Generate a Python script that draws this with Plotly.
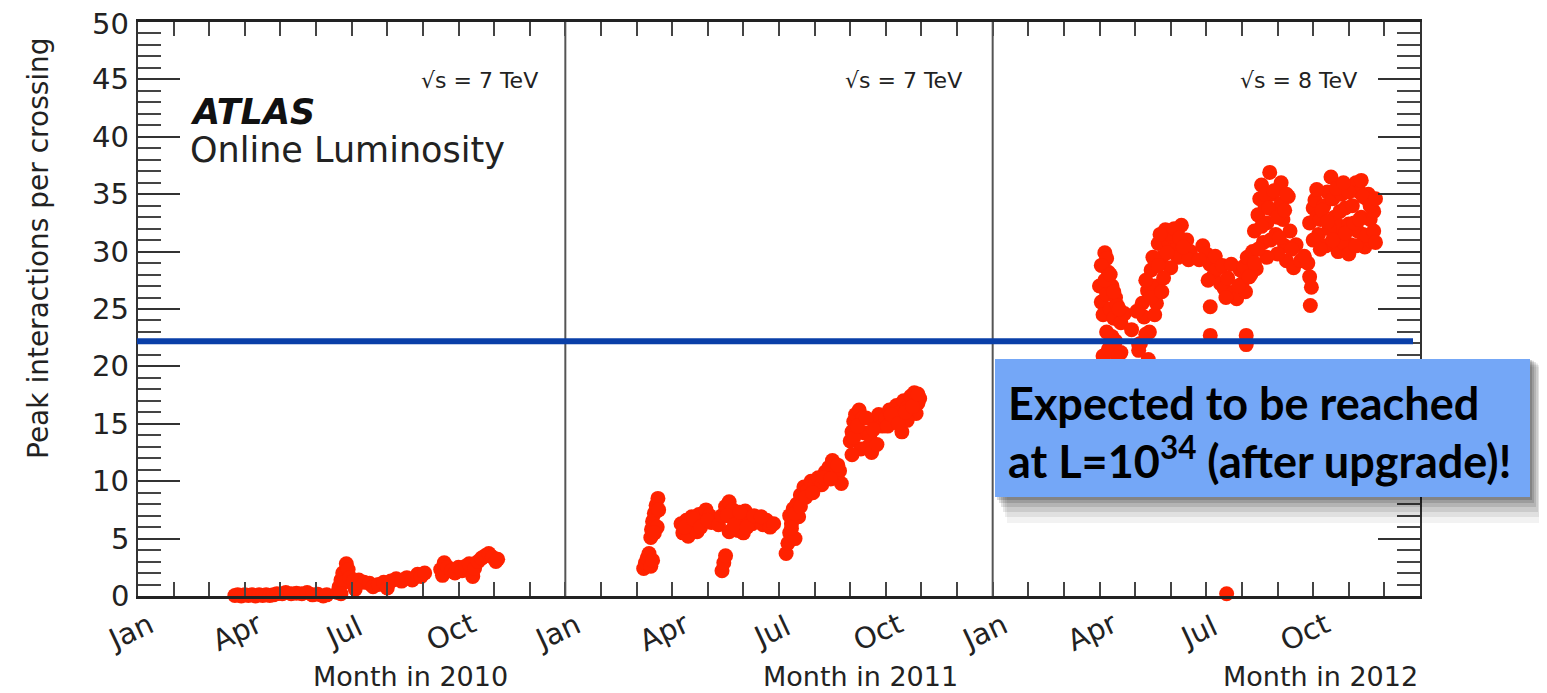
import plotly.graph_objects as go

# ---------------- data (month within year, peak interactions per crossing) ----------------
months_2010 = [2.72, 2.8, 2.9, 3.0, 3.1, 3.2, 3.3, 3.4, 3.5, 3.6, 3.7, 3.8, 3.9,
               4.05, 4.15, 4.3, 4.45, 4.6, 4.75, 4.9, 5.05, 5.2, 5.3,
               5.6, 5.65, 5.7, 5.75, 5.85, 5.9, 5.8, 5.95, 6.05, 6.2, 6.35, 6.5, 6.6, 6.75, 6.9,
               7.0, 7.1, 7.25, 7.4, 7.55, 7.7, 7.85, 7.95, 8.05, 5.7, 6.1,
               8.5, 8.55, 8.6, 8.7, 8.8, 8.9, 9.0, 9.1, 9.2, 9.3, 9.4, 9.45, 9.55, 9.65, 9.75,
               9.85, 9.95, 10.05, 10.1]
values_2010 = [0.05, 0.1, 0.0, 0.1, 0.05, 0.1, 0.0, 0.1, 0.05, 0.1, 0.05, 0.1, 0.2,
               0.2, 0.3, 0.2, 0.25, 0.2, 0.3, 0.1, 0.15, 0.0, 0.1,
               0.3, 0.8, 1.4, 2.0, 2.8, 2.3, 1.2, 1.6, 1.3, 1.4, 1.2, 1.1, 0.8, 1.0, 1.2,
               0.7, 1.3, 1.5, 1.3, 1.6, 1.4, 1.9, 1.7, 2.0, 0.2, 0.6,
               2.3, 1.8, 2.9, 2.5, 2.2, 2.0, 2.5, 2.2, 2.6, 2.8, 1.7, 2.4, 3.0, 3.3, 3.5,
               3.7, 3.4, 3.0, 3.2]

months_2011 = [2.2, 2.25, 2.3, 2.35, 2.4, 2.45,
               2.4, 2.42, 2.45, 2.5, 2.55, 2.6, 2.58, 2.5, 2.62,
               3.25, 3.3, 3.4, 3.5, 3.55, 3.65, 3.75, 3.85, 3.95, 4.05, 4.1, 3.45, 3.7,
               3.35, 3.6, 3.8, 4.0,
               4.4, 4.45, 4.5,
               4.3, 4.4, 4.5, 4.6, 4.7, 4.8, 4.85, 4.95, 5.05, 5.15, 5.25, 5.35, 5.45, 5.55,
               5.65, 5.75, 5.85, 4.6, 5.0, 4.55, 4.75, 4.9, 5.1, 5.3, 5.5,
               6.2, 6.25, 6.3, 6.35, 6.3, 6.4, 6.5, 6.55, 6.6, 6.7, 6.8, 6.9, 7.0, 7.1, 7.2,
               7.3, 7.4, 7.5, 7.6, 7.7, 7.75, 6.45,
               6.35, 6.45, 6.6, 6.75, 6.95, 7.25, 7.45, 7.65,
               8.0, 8.05, 8.1, 8.15, 8.25, 8.35, 8.4, 8.3, 8.5, 8.6, 8.7, 8.8, 8.9, 8.55, 8.05,
               8.1, 8.2, 8.45, 8.65, 8.75,
               9.0, 9.1, 9.2, 9.3, 9.4, 9.5, 9.6, 9.7, 9.8, 9.9, 9.95, 9.85, 9.45, 9.05, 9.6,
               9.15, 9.35, 9.55, 9.75, 9.9]
values_2011 = [2.4, 2.9, 3.3, 3.7, 2.6, 3.1,
               5.1, 5.8, 6.5, 7.2, 7.9, 8.5, 6.0, 5.5, 7.5,
               6.3, 5.5, 6.6, 5.9, 6.9, 6.2, 7.1, 6.5, 7.5, 7.0, 6.4, 5.2, 5.6,
               6.0, 6.7, 6.0, 6.6,
               2.2, 2.9, 3.5,
               6.2, 7.0, 7.8, 8.2, 7.5, 6.8, 5.7, 6.5, 7.4, 7.0, 6.3, 6.8, 6.5, 6.2,
               6.6, 6.0, 6.3, 5.6, 5.5, 7.0, 6.2, 7.3, 6.0, 7.0, 6.9,
               3.7, 4.6, 5.5, 6.3, 7.0, 7.6, 8.0, 6.9, 8.8, 9.5, 9.2, 10.0, 9.6, 10.3, 9.7,
               10.8, 11.2, 11.8, 10.5, 10.9, 9.8, 5.0,
               5.9, 7.2, 7.8, 8.6, 9.0, 10.3, 10.2, 11.4,
               13.5, 14.3, 15.2, 15.8, 16.2, 15.5, 14.2, 12.8, 13.0, 12.5, 15.0, 15.8, 14.8, 14.0, 12.3,
               13.8, 14.8, 15.5, 14.5, 13.2,
               15.5, 16.2, 15.4, 16.6, 16.0, 17.0, 16.4, 17.4, 17.7, 16.8, 17.2, 15.9, 14.3, 14.8, 15.3,
               15.8, 15.0, 16.0, 16.5, 17.6]

months_2012 = [3.15, 3.2, 3.25, 3.0, 3.05, 3.1, 3.2, 3.3, 3.35, 3.4, 3.45, 3.5, 3.6, 3.7, 3.35, 3.1, 3.25,
               3.05, 3.15, 3.3, 3.4, 3.55, 3.2, 3.45, 3.6, 3.5,
               4.1, 4.37,
               3.9, 4.1, 4.25, 4.35, 4.45, 4.55, 4.65, 4.75, 4.85, 4.95, 5.05, 5.15, 5.2, 4.6, 4.4,
               4.15, 5.0, 4.8, 4.95, 5.3, 5.45, 5.55, 5.5,
               4.2, 4.3, 4.5, 4.7, 4.9, 5.1, 5.25, 5.35, 4.45, 4.55, 4.65, 4.3, 4.05, 4.75,
               5.9, 6.0, 6.1, 6.2, 6.3, 6.4, 6.5, 6.6, 6.75, 6.85, 7.0, 7.1, 7.25, 6.95, 6.11,
               5.8, 6.05, 6.25, 6.45, 6.55, 6.7, 6.9, 7.05, 7.15,
               6.11, 7.12, 7.12,
               7.3, 7.35, 7.45, 7.5, 7.55, 7.65, 7.7, 7.78, 7.85, 7.9, 7.95, 8.05, 8.1, 8.15, 8.2,
               8.25, 8.0, 7.6, 7.4, 7.2, 8.3, 8.1, 7.7, 8.35, 8.52,
               7.55, 7.65, 7.75, 7.8, 7.9, 8.0, 8.05, 8.2, 8.25, 7.45, 7.35, 8.4, 8.45, 8.65,
               8.85, 8.9, 8.95, 8.92, 8.75,
               8.9, 9.0, 9.05, 9.1, 9.15, 9.2, 9.3, 9.4, 9.5, 9.55, 9.6, 9.65, 9.7, 9.75, 9.8, 9.9,
               10.0, 10.05, 10.1, 10.2, 10.3, 10.35, 10.4, 10.45, 10.5, 10.55, 10.6, 10.65, 10.7,
               9.35, 9.85, 10.25, 9.45, 10.0,
               9.0, 9.1, 9.25, 9.4, 9.55, 9.65, 9.75, 9.9, 10.0, 10.15, 10.2, 10.3, 10.4, 10.5,
               10.6, 10.7, 10.75, 10.75, 9.2, 10.35, 9.85,
               6.57]
values_2012 = [29.9, 29.4, 28.2, 27.0, 25.6, 24.5, 26.3, 25.0, 27.0, 24.2, 26.0, 25.3, 23.8, 24.6, 22.6, 20.9, 21.5,
               28.8, 27.5, 28.0, 26.5, 25.0, 23.0, 22.2, 21.2, 20.8,
               21.9, 20.6,
               23.2, 21.4, 24.3, 26.6, 28.4, 27.0, 30.7, 29.5, 31.9, 30.8, 31.3, 30.2, 29.5, 25.5, 23.0,
               22.0, 28.6, 27.7, 31.6, 32.3, 31.0, 30.0, 29.3,
               25.5, 27.5, 29.5, 31.5, 29.9, 32.0, 31.2, 30.4, 26.0, 24.5, 28.8, 22.8, 24.8, 26.5,
               30.5, 29.8, 28.9, 27.9, 28.5, 27.2, 26.8, 27.7, 26.4, 25.9, 27.2, 26.5, 28.0, 28.4, 25.2,
               29.3, 27.5, 29.6, 28.8, 26.0, 28.9, 27.0, 28.7, 29.5,
               22.7, 22.7, 21.9,
               30.0, 31.8, 33.2, 34.6, 35.8, 34.0, 32.5, 36.9, 35.0, 33.6, 31.5, 35.5, 34.2, 32.8, 30.5,
               29.2, 29.8, 30.8, 28.5, 27.8, 34.8, 36.0, 29.5, 31.8, 30.6,
               32.2, 35.0, 33.8, 31.0, 35.3, 33.0, 31.2, 33.6, 35.0, 30.2, 29.0, 30.2, 28.6, 29.2,
               29.0, 27.8, 26.9, 25.3, 29.6,
               32.5, 33.8, 34.5, 33.0, 31.5, 32.8, 34.0, 35.2, 36.5, 34.6, 33.0, 31.2, 30.0, 32.2, 35.0, 33.8,
               32.4, 30.6, 34.0, 36.0, 35.2, 33.0, 31.5, 30.4, 34.6, 35.0, 32.8, 30.9, 33.5,
               30.5, 30.8, 31.8, 32.0, 29.8,
               31.0, 35.4, 33.6, 32.6, 31.0, 35.5, 33.5, 31.6, 35.2, 32.5, 30.5, 32.8, 34.8, 31.4,
               34.0, 31.8, 34.6, 30.8, 30.2, 36.2, 36.0,
               0.2]

years = [2010, 2011, 2012]
month_names = ["Jan", "Apr", "Jul", "Oct"]
energy_labels = ["√s = 7 TeV", "√s = 7 TeV", "√s = 8 TeV"]
y_ticks = [0, 5, 10, 15, 20, 25, 30, 35, 40, 45, 50]
expected_level = 22.2

# ---------------- layout helpers ----------------
# the page body adds an 8 px offset, so the figure is drawn 8 px smaller and
# positions below are given in screen pixels of the reference.
OFF = 8
W, H = 1547 - OFF, 693 - OFF
L, R, T, B = 138, 1420, 22, 596          # plot area in screen pixels


def px(xp):
    return (xp - L) / (R - L)


def py(yp):
    return (B - yp) / (B - T)


fig = go.Figure()

all_x, all_y = [], []
for i, (m, v) in enumerate([(months_2010, values_2010), (months_2011, values_2011), (months_2012, values_2012)]):
    all_x += [12 * i + mm for mm in m]
    all_y += v

fig.add_trace(go.Scatter(x=all_x, y=all_y, mode="markers",
                         marker=dict(color="#ff2200", size=15, line=dict(width=0)),
                         hoverinfo="skip", showlegend=False, cliponaxis=False))

shapes = []
# panel separators
for k in (12, 24):
    shapes.append(dict(type="line", xref="x", yref="y", x0=k, x1=k, y0=0, y1=50,
                       line=dict(color="#555555", width=2), layer="above"))
# expected level line
shapes.append(dict(type="line", xref="paper", yref="y", x0=px(137), x1=px(1413),
                   y0=expected_level, y1=expected_level,
                   line=dict(color="#0a3fa8", width=6), layer="above"))
# shadow of the callout box
for dx, dy, op in [(12, 26, 0.05), (10, 20, 0.07), (8, 15, 0.09), (6, 10, 0.11), (4, 6, 0.13), (2, 3, 0.15)]:
    shapes.append(dict(type="rect", xref="paper", yref="paper",
                       x0=px(995 + dx), x1=px(1530 + dx), y0=py(359 + dy * 0.3), y1=py(497 + dy),
                       fillcolor="black", opacity=op, line=dict(width=0), layer="above"))
# callout box
shapes.append(dict(type="rect", xref="paper", yref="paper",
                   x0=px(995), x1=px(1530), y0=py(359), y1=py(497),
                   fillcolor="#74a7f7", line=dict(width=0), layer="above"))

annotations = []
label_font = dict(family="DejaVu Sans", size=29, color="#222222")
# y tick labels (drawn as text so the top one is not dropped at the page edge)
for v in y_ticks:
    annotations.append(dict(x=px(131), y=v, xref="paper", yref="y", text=str(v), showarrow=False,
                            xanchor="right", yanchor="middle", yshift=-2 if v == 50 else 0,
                            font=dict(family="DejaVu Sans", size=29, color="#222222")))
# month tick labels
for i, yr in enumerate(years):
    for j, name in enumerate(month_names):
        annotations.append(dict(x=12 * i + 3 * j, y=py(632), xref="x", yref="paper",
                                text=name, showarrow=False, textangle=-25, xshift=-8,
                                font=label_font, xanchor="center", yanchor="middle"))
# axis titles per panel
title_right = [510, 960, 1420]
for i, yr in enumerate(years):
    annotations.append(dict(x=px(title_right[i]), y=py(676), xref="paper", yref="paper",
                            text=f"Month in {yr}", showarrow=False, xanchor="right", yanchor="middle",
                            font=dict(family="DejaVu Sans", size=27, color="#222222")))
# energy labels
energy_x = [11.3, 23.2, 34.3]
for i, lab in enumerate(energy_labels):
    annotations.append(dict(x=energy_x[i], y=44.9, xref="x", yref="y", text=lab, showarrow=False,
                            xanchor="right", yanchor="middle",
                            font=dict(family="DejaVu Sans", size=22, color="#222222")))
# ATLAS label
annotations.append(dict(x=px(188), y=py(112), xref="paper", yref="paper", text="<b><i>ATLAS</i></b>",
                        showarrow=False, xanchor="left", yanchor="middle",
                        font=dict(family="DejaVu Sans", size=35, color="#111111")))
annotations.append(dict(x=px(188), y=py(150), xref="paper", yref="paper", text="Online Luminosity",
                        showarrow=False, xanchor="left", yanchor="middle",
                        font=dict(family="DejaVu Sans", size=35, color="#222222")))
# y-axis title
annotations.append(dict(x=px(38), y=py(248), xref="paper", yref="paper",
                        text="Peak interactions per crossing", showarrow=False, textangle=-90,
                        xanchor="center", yanchor="middle",
                        font=dict(family="DejaVu Sans", size=28, color="#222222")))
# callout text
annotations.append(dict(x=px(1006), y=py(403), xref="paper", yref="paper",
                        text="<b>Expected to be reached</b>", showarrow=False,
                        xanchor="left", yanchor="middle",
                        font=dict(family="Lato", size=45, color="black")))
annotations.append(dict(x=px(1006), y=py(458), xref="paper", yref="paper",
                        text="<b>at L=10<sup>34</sup> (after upgrade)!</b>", showarrow=False,
                        xanchor="left", yanchor="middle",
                        font=dict(family="Lato", size=45, color="black")))

fig.update_layout(
    width=W, height=H,
    margin=dict(l=L - OFF, r=1547 - R, t=T - OFF, b=693 - B, pad=0, autoexpand=False),
    paper_bgcolor="white", plot_bgcolor="white",
    showlegend=False,
    shapes=shapes, annotations=annotations,
    xaxis=dict(range=[0, 36], showgrid=False, zeroline=False, automargin=False,
               tickmode="array", tickvals=list(range(1, 36)),
               ticks="inside", ticklen=14, tickwidth=2, tickcolor="#444444",
               showticklabels=False, showline=True, linewidth=3, linecolor="#222222",
               mirror="ticks"),
    yaxis=dict(range=[0, 50], showgrid=False, zeroline=False, automargin=False,
               tickmode="array", tickvals=y_ticks,
               ticks="inside", ticklen=42, tickwidth=2, tickcolor="#333333",
               minor=dict(dtick=1, ticks="inside", ticklen=23, tickwidth=2, tickcolor="#444444"),
               showticklabels=False,
               showline=True, linewidth=2, linecolor="#333333", mirror="ticks"),
)

fig.write_html("out.html")
